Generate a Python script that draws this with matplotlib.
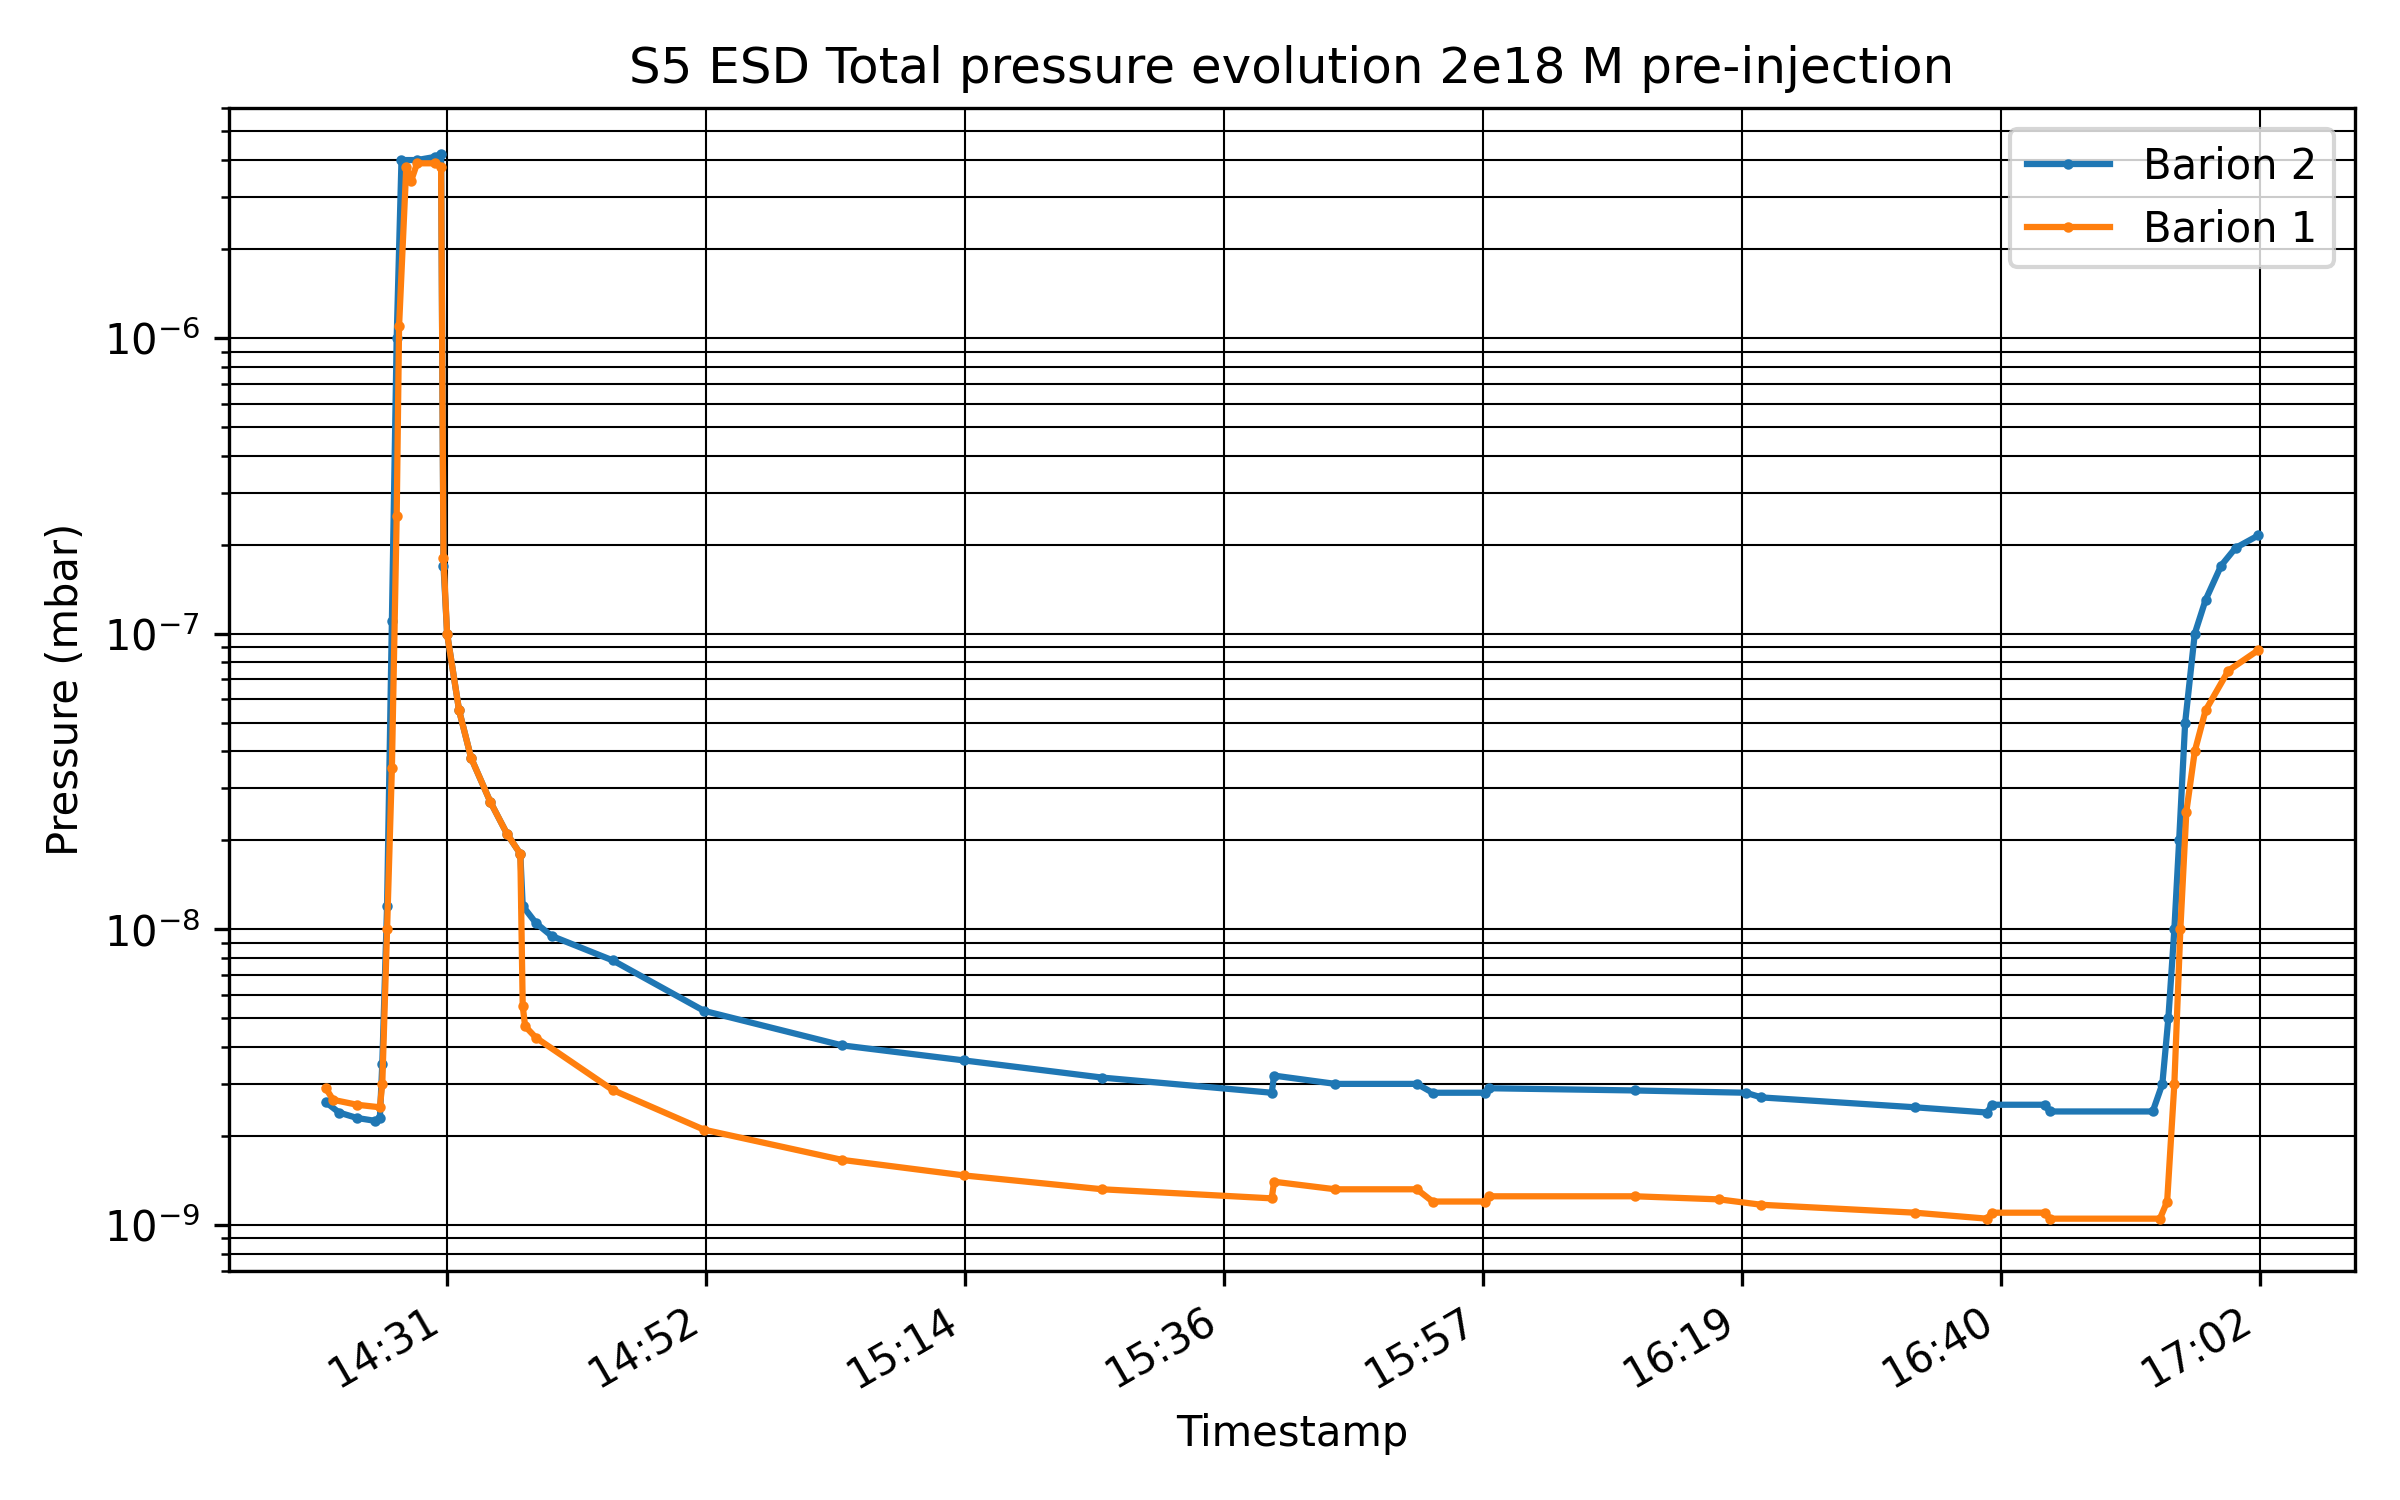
import numpy as np
import pandas as pd
import matplotlib
matplotlib.use("Agg")
import matplotlib.pyplot as plt

# minutes after 14:00, pressure in mbar
b2_min = [20.9, 22.0, 23.5, 25.0, 25.4, 25.6, 26.0, 26.4, 26.8, 27.2, 28.5, 30.0, 30.5,
          30.7, 31.0, 32.0, 33.0, 34.6, 36.0, 37.1, 37.3, 38.4, 39.7, 44.8, 52.4,
          63.9, 74.1, 85.6, 99.7, 99.9, 105.0, 111.8, 113.1, 117.5, 117.8, 130.0,
          139.2, 140.5, 153.3, 159.3, 159.7, 164.1, 164.5, 173.1, 173.9, 174.4,
          174.9, 175.3, 175.8, 176.6, 177.5, 178.8, 180.0, 181.9]
b2_val = [2.6e-9, 2.4e-9, 2.3e-9, 2.25e-9, 2.3e-9, 3.5e-9, 1.2e-8, 1.1e-7, 1.0e-6, 4.0e-6,
          4.0e-6, 4.1e-6, 4.2e-6,
          1.7e-7, 1.0e-7, 5.5e-8, 3.8e-8, 2.7e-8, 2.1e-8, 1.8e-8, 1.2e-8, 1.05e-8,
          9.5e-9, 7.85e-9, 5.3e-9,
          4.05e-9, 3.6e-9, 3.15e-9, 2.8e-9, 3.2e-9, 3.0e-9, 3.0e-9, 2.8e-9, 2.8e-9,
          2.9e-9, 2.85e-9,
          2.8e-9, 2.7e-9, 2.5e-9, 2.4e-9, 2.55e-9, 2.55e-9, 2.42e-9, 2.42e-9, 3.0e-9,
          5.0e-9,
          1.0e-8, 2.0e-8, 5.0e-8, 1.0e-7, 1.3e-7, 1.7e-7, 1.95e-7, 2.15e-7]

b1_min = [20.9, 21.5, 23.5, 25.4, 25.6, 26.0, 26.4, 26.8, 27.0, 27.6, 28.0, 28.5, 30.0,
          30.5, 30.7, 31.0, 32.0, 33.0, 34.6, 36.0, 37.1, 37.3, 37.5, 38.4, 44.8,
          52.4, 63.9, 74.1, 85.6, 99.7, 99.9, 105.0, 111.8, 113.1, 117.5, 117.8,
          130.0, 137.0, 140.5, 153.3, 159.3, 159.7, 164.1, 164.5, 173.7, 174.3,
          174.9, 175.4, 175.9, 176.6, 177.5, 179.4, 181.9]
b1_val = [2.9e-9, 2.65e-9, 2.55e-9, 2.5e-9, 3.0e-9, 1.0e-8, 3.5e-8, 2.5e-7, 1.1e-6, 3.8e-6,
          3.4e-6, 3.9e-6, 3.9e-6,
          3.8e-6, 1.8e-7, 1.0e-7, 5.5e-8, 3.8e-8, 2.7e-8, 2.1e-8, 1.8e-8, 5.5e-9,
          4.7e-9, 4.3e-9, 2.86e-9,
          2.1e-9, 1.66e-9, 1.47e-9, 1.32e-9, 1.23e-9, 1.4e-9, 1.32e-9, 1.32e-9,
          1.2e-9, 1.2e-9, 1.25e-9,
          1.25e-9, 1.22e-9, 1.17e-9, 1.1e-9, 1.05e-9, 1.1e-9, 1.1e-9, 1.05e-9,
          1.05e-9, 1.2e-9,
          3.0e-9, 1.0e-8, 2.5e-8, 4.0e-8, 5.5e-8, 7.5e-8, 8.8e-8]

tick_labels = ["14:31", "14:52", "15:14", "15:36", "15:57", "16:19", "16:40", "17:02"]

base = pd.Timestamp("2024-01-01 14:00")
t2 = [base + pd.Timedelta(minutes=m) for m in b2_min]
t1 = [base + pd.Timedelta(minutes=m) for m in b1_min]

fig, ax = plt.subplots(figsize=(8, 5), dpi=300)
ax.plot(t2, b2_val, color="tab:blue", marker="o", markersize=1.5, linewidth=1.5, label="Barion 2")
ax.plot(t1, b1_val, color="tab:orange", marker="o", markersize=1.5, linewidth=1.5, label="Barion 1")
ax.set_yscale("log")
ax.set_ylim(7e-10, 6e-6)

ticks = pd.date_range(base + pd.Timedelta(minutes=31), base + pd.Timedelta(minutes=182), periods=8)
ax.set_xticks(ticks)
ax.set_xticklabels(tick_labels)
ax.grid(True, which="major", axis="x", color="black", linewidth=0.5)
ax.grid(True, which="both", axis="y", color="black", linewidth=0.5)

ax.set_title("S5 ESD Total pressure evolution 2e18 M pre-injection")
ax.set_xlabel("Timestamp")
ax.set_ylabel("Pressure (mbar)")
ax.legend(loc="upper right")
fig.autofmt_xdate()
plt.tight_layout()
fig.savefig("out.png", dpi=300)
